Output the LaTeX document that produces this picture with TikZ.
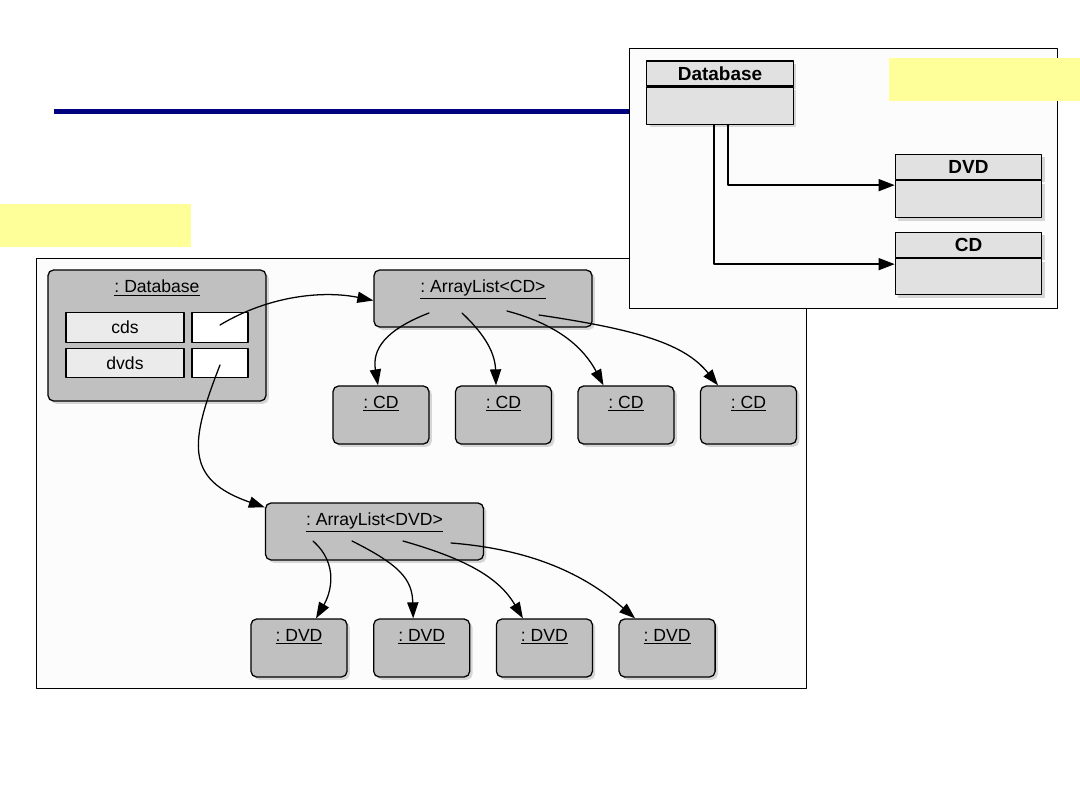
\documentclass[tikz,border=0pt]{standalone}
\usepackage{fontspec}
\setmainfont{Liberation Sans}
\usetikzlibrary{arrows.meta,shadows,positioning}
\frenchspacing
\definecolor{navyline}{RGB}{0,0,128}
\definecolor{notebox}{RGB}{255,255,153}
\definecolor{objfill}{RGB}{192,192,192}
\definecolor{fieldfill}{RGB}{235,235,235}
\definecolor{classfill}{RGB}{225,225,225}
\definecolor{panelfill}{RGB}{252,252,252}
\tikzset{
  objtitle/.style={anchor=north,yshift=-3.5pt,inner sep=4pt},
  obj/.style={draw,line width=0.9pt,rounded corners=4pt,fill=objfill,inner sep=0pt,
    drop shadow={shadow xshift=2pt,shadow yshift=-2pt,opacity=0.3}},
  listobj/.style={obj,minimum width=5.45cm,minimum height=1.425cm},
  itemobj/.style={obj,minimum width=2.4cm,minimum height=1.45cm},
  field/.style={draw,line width=0.8pt,fill=fieldfill,minimum width=2.95cm,minimum height=0.74cm,inner sep=0pt},
  slot/.style={draw,line width=0.8pt,fill=white,minimum width=1.4cm,minimum height=0.74cm,inner sep=0pt},
  clshead/.style={draw,line width=0.9pt,fill=classfill,minimum width=3.66cm,minimum height=0.625cm,
    inner sep=0pt,font=\fontsize{13.5}{16}\selectfont\bfseries,
    drop shadow={shadow xshift=2pt,shadow yshift=-2pt,opacity=0.3}},
  clsbody/.style={draw,line width=0.9pt,fill=classfill,minimum width=3.66cm,minimum height=0.925cm,
    inner sep=0pt,drop shadow={shadow xshift=2pt,shadow yshift=-2pt,opacity=0.3}},
  ref/.style={line width=0.9pt,-{Triangle[length=4mm,width=2.8mm]}},
  assoc/.style={line width=1pt,line cap=butt,-{Triangle[length=4mm,width=3mm]}}
}
\begin{document}
\begin{tikzpicture}[x=0.025cm,y=-0.025cm,line cap=round,line join=round,
  font=\fontsize{12.5}{15}\selectfont]
  \useasboundingbox[fill=white] (0,0) rectangle (1080,810);
  % title rule and note
  \draw[navyline,line width=3.6pt,line cap=butt] (54,111.5) -- (630,111.5);
  \fill[notebox] (0,204) rectangle (191,247);

  % object diagram
  \draw[fill=panelfill,line width=0.7pt] (36,258) rectangle (806,688);
  \node[obj,minimum width=5.45cm,minimum height=3.275cm,
    label={[objtitle]north:\underline{: Database}}] (db) at (157,335.5) {};
  \node[field] (cds) at (125,327.5) {cds};
  \node[slot] (cdsref) at (220,327.5) {};
  \node[field] (dvds) at (125,363) {dvds};
  \node[slot] (dvdsref) at (220,363) {};

  \node[listobj,label={[objtitle]north:\underline{: ArrayList<CD>}}] (cdlist) at (483,298.5) {};
  \node[listobj,label={[objtitle]north:\underline{: ArrayList<DVD>}}] (dvdlist) at (374.5,531.5) {};
  \foreach \i in {1,...,4} {
    \node[itemobj,label={[objtitle]north:\underline{: CD}}] (cd\i) at ({381+122.5*(\i-1)},415) {};
    \node[itemobj,label={[objtitle]north:\underline{: DVD}}] (dvd\i) at ({299+122.7*(\i-1)},648) {};
  }

  \draw[ref] ([shift={(0,-2.5)}]cdsref.center) .. controls +(50,-30) and +(-49,-10) .. ([shift={(0,2)}]cdlist.west);
  \draw[ref] ([shift={(0,2)}]dvdsref.center) .. controls +(-30,77) and +(-81,-28) .. ([shift={(0,5)}]dvdlist.north west);

  \draw[ref] ([shift={(-54,14.5)}]cdlist.center) .. controls +(-44,17) and +(-6,-36) .. ([shift={(-3,0)}]cd1.north);
  \draw[ref] ([shift={(-21,14.5)}]cdlist.center) .. controls +(18,17) and +(-1,-36) .. ([shift={(-7.5,0)}]cd2.north);
  \draw[ref] ([shift={(24,12.5)}]cdlist.center) .. controls +(53,14) and +(-19,-36) .. ([shift={(-22.5,0)}]cd3.north);
  \draw[ref] ([shift={(56,16.5)}]cdlist.center) .. controls +(101,15) and +(-33,-41) .. ([shift={(-30.5,0)}]cd4.north);

  \draw[ref] ([shift={(-61.5,9.5)}]dvdlist.center) .. controls +(27,24) and +(14,-24) .. ([shift={(17,0)}]dvd1.north);
  \draw[ref] ([shift={(-22.5,9.5)}]dvdlist.center) .. controls +(48,24) and +(-1,-39) .. ([shift={(-8.5,0)}]dvd2.north);
  \draw[ref] ([shift={(28.5,9.5)}]dvdlist.center) .. controls +(67,19) and +(-23,-39) .. ([shift={(-21.5,0)}]dvd3.north);
  \draw[ref] ([shift={(76.5,11.5)}]dvdlist.center) .. controls +(89,7) and +(-45,-39) .. ([shift={(-32,0)}]dvd4.north);

  % class diagram
  \draw[fill=panelfill,line width=0.7pt] (629,48) rectangle (1057,308);
  \fill[notebox] (889,58) rectangle (1080,101);
  \node[clshead] (dbhead) at (720,73.5) {Database};
  \node[clsbody,below=0pt of dbhead] (dbbody) {};
  \node[clshead] (dvdhead) at (968.5,167) {DVD};
  \node[clsbody,below=0pt of dvdhead] (dvdbody) {};
  \node[clshead] (cdhead) at (968.5,245) {CD};
  \node[clsbody,below=0pt of cdhead,minimum height=0.9cm] (cdbody) {};

  \draw[assoc] ([shift={(8,0)}]dbbody.south) |- ([shift={(0,5)}]dvdbody.north west);
  \draw[assoc] ([shift={(-6,0)}]dbbody.south) |- ([shift={(0,6)}]cdbody.north west);
\end{tikzpicture}
\end{document}
